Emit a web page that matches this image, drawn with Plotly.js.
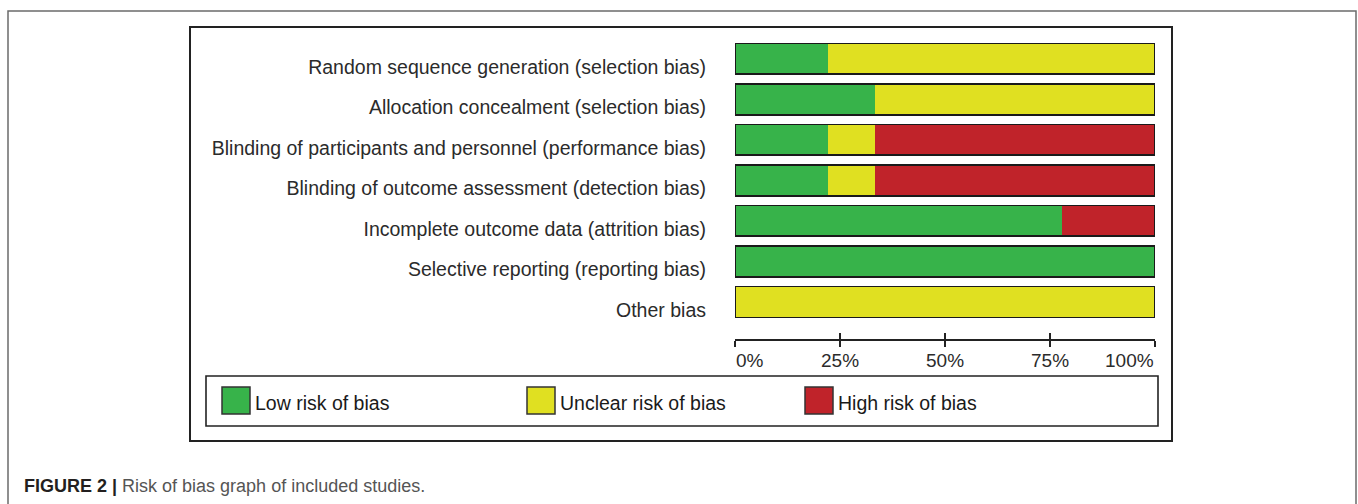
<!DOCTYPE html>
<html>
<head>
<meta charset="utf-8">
<script src="https://cdn.plot.ly/plotly-3.0.1.min.js"></script>
<style>html,body{margin:0;padding:0;background:#fff;}#chart{width:1358px;height:504px;}</style>
</head>
<body>
<div id="chart"></div>
<script>
// ---- data (percent of included studies) ----
const domains = [
  "Random sequence generation (selection bias)",
  "Allocation concealment (selection bias)",
  "Blinding of participants and personnel (performance bias)",
  "Blinding of outcome assessment (detection bias)",
  "Incomplete outcome data (attrition bias)",
  "Selective reporting (reporting bias)",
  "Other bias"
];
const lowRisk     = [22.2, 33.3, 22.2, 22.2, 77.8, 100.0, 0.0];
const unclearRisk = [77.8, 66.7, 11.1, 11.1, 0.0, 0.0, 100.0];
const highRisk    = [0.0, 0.0, 66.7, 66.7, 22.2, 0.0, 0.0];
const riskNames   = ["Low risk of bias", "Unclear risk of bias", "High risk of bias"];
const riskColors  = ["#37b34a", "#e0e021", "#c0232a"];
const tickVals    = [0, 25, 50, 75, 100];
const tickText    = ["0%", "25%", "50%", "75%", "100%"];
const captionBold = "FIGURE 2 |";
const captionText = "Risk of bias graph of included studies.";

// ---- layout helpers (page pixels -> paper) ----
const W = 1358, H = 504;
const px = x => x / W;
const py = y => 1 - y / H;
const FONT = "Liberation Sans, Arial, Helvetica, sans-serif";
const TXT = "#2b2b2b";

const series = [lowRisk, unclearRisk, highRisk];
const totals = domains.map((_, i) => series.reduce((s, arr) => s + arr[i], 0));

const traces = series.map((vals, k) => ({
  type: "bar", orientation: "h",
  x: vals, y: domains, name: riskNames[k],
  marker: { color: riskColors[k], line: { width: 0 } },
  width: 0.76, showlegend: false, hoverinfo: "skip",
  xaxis: "x", yaxis: "y"
}));
// outline of each full bar
traces.push({
  type: "bar", orientation: "h",
  x: totals, y: domains,
  marker: { color: "rgba(0,0,0,0)", line: { width: 1.6, color: "#1a1a1a" } },
  width: 0.76, showlegend: false, hoverinfo: "skip",
  xaxis: "x2", yaxis: "y"
});
// invisible trace to carry the crossing (inside) ticks
traces.push({
  type: "scatter", mode: "none", x: tickVals, y: tickVals.map(() => domains[0]),
  xaxis: "x3", yaxis: "y", showlegend: false, hoverinfo: "skip"
});

const xDomain = [px(735), px(1155)];
const yDomain = [py(339.3), py(38.6)];

const annotations = tickVals.map((v, i) => ({
  xref: "x", yref: "paper", x: v, y: py(360),
  text: tickText[i], showarrow: false,
  xanchor: i === 0 ? "left" : (i === tickVals.length - 1 ? "right" : "center"),
  yanchor: "middle", xshift: i === 0 ? -1 : (i === tickVals.length - 1 ? 1 : 0),
  font: { family: FONT, size: 19, color: TXT }
}));

// legend (custom, with large swatches)
const legendX = [222, 527, 805];
const shapes = [
  // outer figure frame
  { type: "path", xref: "paper", yref: "paper",
    path: `M ${px(8)} ${py(520)} L ${px(8)} ${py(11)} L ${px(1356)} ${py(11)} L ${px(1356)} ${py(520)}`,
    line: { color: "#6b6b6b", width: 1.5 } },
  // inner graph frame
  { type: "rect", xref: "paper", yref: "paper", x0: px(190), x1: px(1172), y0: py(441), y1: py(27),
    line: { color: "#222", width: 2 } },
  // legend box
  { type: "rect", xref: "paper", yref: "paper", x0: px(206), x1: px(1158), y0: py(426), y1: py(376),
    line: { color: "#222", width: 1.6 } }
];
riskNames.forEach((n, k) => {
  shapes.push({ type: "rect", xref: "paper", yref: "paper",
    x0: px(legendX[k]), x1: px(legendX[k] + 28), y0: py(414), y1: py(387),
    fillcolor: riskColors[k], line: { color: "#333", width: 1.5 } });
  annotations.push({ xref: "paper", yref: "paper", x: px(legendX[k] + 31), y: py(403),
    text: n, showarrow: false, xanchor: "left", yanchor: "middle",
    font: { family: FONT, size: 19.5, color: "#1a1a1a" } });
});

annotations.push({
  xref: "paper", yref: "paper", x: px(22), y: py(486),
  text: `<b><span style="color:#231f20">${captionBold}</span></b> ${captionText}`,
  showarrow: false, xanchor: "left", yanchor: "middle",
  font: { family: FONT, size: 18, color: "#555" }
});

const layout = {
  width: W, height: H,
  margin: { l: 0, r: 0, t: 0, b: 0 },
  paper_bgcolor: "#fff", plot_bgcolor: "rgba(0,0,0,0)",
  barmode: "stack", bargap: 0.24,
  showlegend: false,
  xaxis: {
    domain: xDomain, range: [0, 100], fixedrange: true,
    showgrid: false, zeroline: false,
    showline: true, linecolor: "#222", linewidth: 2,
    ticks: "outside", ticklen: 6, tickwidth: 2, tickcolor: "#222",
    tickvals: tickVals, showticklabels: false
  },
  xaxis2: {
    overlaying: "x", matches: "x", range: [0, 100], visible: false
  },
  xaxis3: {
    overlaying: "x", range: [0, 100], side: "bottom", anchor: "y",
    showgrid: false, zeroline: false, showline: false,
    ticks: "inside", ticklen: 6, tickwidth: 2, tickcolor: "#222",
    tickvals: tickVals, showticklabels: false
  },
  yaxis: {
    domain: yDomain, type: "category", categoryorder: "array", categoryarray: domains,
    range: [6.923, -0.5], fixedrange: true,
    showgrid: false, zeroline: false, showline: false, ticks: "",
    ticklabelstandoff: 28, ticklabelshift: -8,
    tickfont: { family: FONT, size: 19.5, color: TXT }
  },
  shapes: shapes,
  annotations: annotations
};

Plotly.newPlot("chart", traces, layout, { displayModeBar: false, staticPlot: true });
</script>
</body>
</html>
